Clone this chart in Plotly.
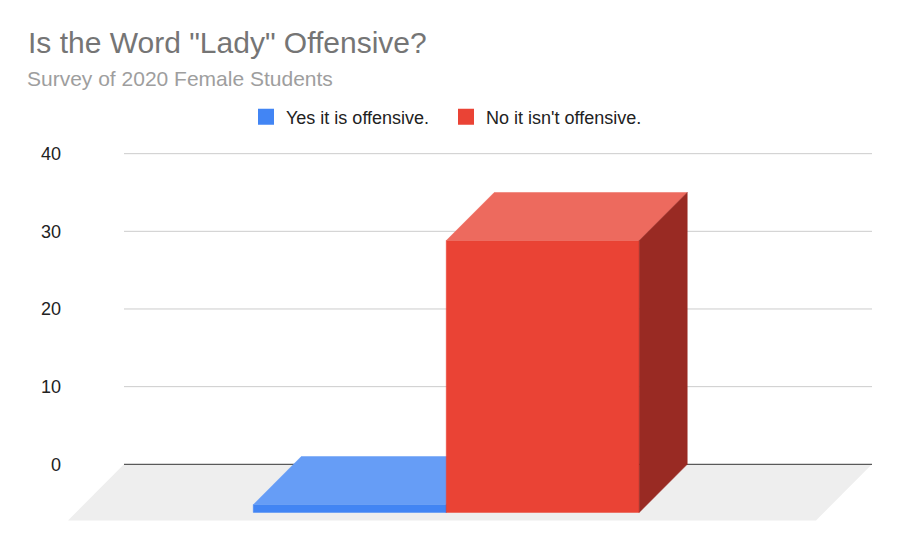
import plotly.graph_objects as go

# ---- data ----
categories = ["Yes it is offensive.", "No it isn't offensive."]
values = [1, 35]
y_ticks = [0, 10, 20, 30, 40]
title_text = 'Is the Word "Lady" Offensive?'
subtitle_text = "Survey of 2020 Female Students"

# ---- style ----
front_colors = ["#4285F4", "#EA4335"]
top_colors = ["#669DF6", "#ED6A5E"]
side_colors = ["#2F67C9", "#992A23"]
FONT = "Liberation Sans, Arial, sans-serif"

# pseudo-3D projection (depth offsets in axis units)
DXU = 56 / 748.0        # full floor depth along x
DYU = 56 / 7.75         # full floor depth along y
BAR_Z0 = 8 / 56.0       # bar front depth position (0 = floor front, 1 = back)
GROUP_W = 0.516
GROUP_C = -0.005


def proj(x, y, z):
    return x - (1 - z) * DXU, y - (1 - z) * DYU


def poly(points):
    xs, ys = zip(*[proj(*p) for p in points])
    return list(xs) + [xs[0]], list(ys) + [ys[0]]


fig = go.Figure()

# floor
fx, fy = poly([(-0.5, 0, 0), (0.5, 0, 0), (0.5, 0, 1), (-0.5, 0, 1)])
fig.add_trace(go.Scatter(x=fx, y=fy, fill="toself", fillcolor="#EEEEEE",
                         line=dict(width=0), mode="lines", showlegend=False,
                         hoverinfo="skip"))

# gridlines (back wall)
for t in y_ticks:
    gx, gy = zip(proj(-0.5, t, 1), proj(0.5, t, 1))
    fig.add_trace(go.Scatter(x=list(gx), y=list(gy), mode="lines",
                             line=dict(color="#333333" if t == 0 else "#CCCCCC", width=1),
                             showlegend=False, hoverinfo="skip"))

# bars
n = len(values)
bw = GROUP_W / n
for i, (cat, v) in enumerate(zip(categories, values)):
    x0 = GROUP_C - GROUP_W / 2 + i * bw
    x1 = x0 + bw
    z0, z1 = BAR_Z0, 1.0
    faces = [
        ([(x0, 0, z0), (x1, 0, z0), (x1, v, z0), (x0, v, z0)], front_colors[i]),
        ([(x0, v, z0), (x1, v, z0), (x1, v, z1), (x0, v, z1)], top_colors[i]),
        ([(x1, 0, z0), (x1, 0, z1), (x1, v, z1), (x1, v, z0)], side_colors[i]),
    ]
    for pts, col in faces:
        px, py = poly(pts)
        fig.add_trace(go.Scatter(x=px, y=py, fill="toself", fillcolor=col,
                                 line=dict(width=0.5, color=col), mode="lines",
                                 showlegend=False, hoverinfo="skip"))

# legend entries
for cat, col in zip(categories, front_colors):
    fig.add_trace(go.Scatter(x=[None], y=[None], mode="markers", name=cat,
                             marker=dict(symbol="square", size=16, color=col)))

fig.update_layout(
    width=900, height=557,
    margin=dict(l=68, r=28, t=149, b=36),
    paper_bgcolor="white", plot_bgcolor="white",
    font=dict(family=FONT, color="#222222", size=18),
    title=dict(text=title_text, x=28 / 900, xanchor="left", xref="container",
               y=1 - 42 / 557, yanchor="middle", yref="container",
               font=dict(size=30, color="#757575", family=FONT)),
    legend=dict(orientation="h", x=(246 - 68) / 804, xanchor="left",
                y=(521 - 117) / 372, yanchor="middle", entrywidth=155,
                font=dict(size=18, color="#222222", family=FONT),
                bgcolor="rgba(0,0,0,0)"),
    annotations=[dict(text=subtitle_text, xref="paper", yref="paper",
                      x=(25 - 68) / 804, y=(521 - 79) / 372, xanchor="left",
                      yanchor="middle", showarrow=False,
                      font=dict(size=21, color="#9E9E9E", family=FONT))],
    xaxis=dict(range=[-0.5 - DXU, 0.5], visible=False, fixedrange=True),
    yaxis=dict(range=[-7.3, 40.6], tickvals=y_ticks, showgrid=False,
               zeroline=False, showline=False, ticks="",
               tickfont=dict(size=18, color="#222222", family=FONT),
               ticklabelstandoff=6, fixedrange=True),
    showlegend=True,
)

fig.write_html("out.html")
